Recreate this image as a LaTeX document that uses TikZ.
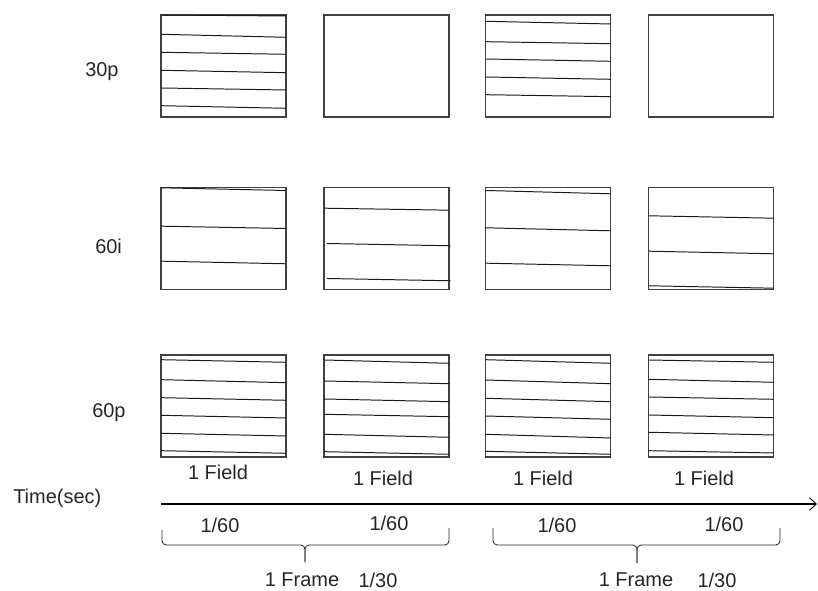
\documentclass[tikz,border=0pt]{standalone}
\usepackage{fontspec}
\setmainfont{Liberation Sans}
\usepackage{tikz}
\usetikzlibrary{arrows.meta,calc}
\tikzset{
  frame/.style={draw=black!75,line width=0.9pt,minimum width=3.125cm,minimum height=2.55cm,
    inner sep=0pt,outer sep=0pt},
  scan/.style={line width=0.7pt,black!90},
  lbl/.style={inner sep=0pt,anchor=base,font=\fontsize{14.2}{17}\selectfont,text=black!85},
  arrow/.style={-{Straight Barb[length=5pt,width=9pt,line width=0.6pt]},line width=1.3pt},
  brace/.style={line width=0.6pt,black!85,rounded corners=3pt}
}

\begin{document}
\begin{tikzpicture}[x=0.025cm,y=-0.025cm]
  \useasboundingbox (0,0) rectangle (818,591);
  % row labels
  \node[lbl,anchor=base west] (l30p) at (85,77) {30p};
  \node[lbl,anchor=base west] (l60i) at (95,253) {60i};
  \node[lbl,anchor=base west] (l60p) at (92,417) {60p};
  % 30p frames
  \node[frame] (f30a) at (223.5,66) {};
  \node[frame] (f30b) at (386.5,66) {};
  \node[frame] (f30c) at (548,66) {};
  \node[frame] (f30d) at (711,66) {};
  \foreach \l/\r in {0/1,19.3/22.3,37.3/39.3,55.3/57.7,73/75,90.7/93.3}
    \draw[scan] ($(f30a.north west)+(0,\l)$) -- ($(f30a.north east)+(0,\r)$);
  \foreach \l/\r in {6.3/9,26.7/28.7,44/46.3,62/64.3,79.7/81.7}
    \draw[scan] ($(f30c.north west)+(0,\l)$) -- ($(f30c.north east)+(0,\r)$);
  % 60i fields
  \node[frame] (f60ia) at (223.5,238.5) {};
  \node[frame] (f60ib) at (386.5,238.5) {};
  \node[frame] (f60ic) at (548,238.5) {};
  \node[frame] (f60id) at (711,238.5) {};
  \foreach \l/\r in {0.3/3,38.7/41,73.7/76.3}
    \draw[scan] ($(f60ia.north west)+(0,\l)$) -- ($(f60ia.north east)+(0,\r)$);
  \foreach \a/\l/\b/\r in {0/20.7/0/22.7,2.7/56/1.7/58.3,2.7/91/1.7/93.3}
    \draw[scan] ($(f60ib.north west)+(\a,\l)$) -- ($(f60ib.north east)+(\b,\r)$);
  \foreach \l/\r in {3/6.3,40.3/43.3,75.7/78.3}
    \draw[scan] ($(f60ic.north west)+(0,\l)$) -- ($(f60ic.north east)+(0,\r)$);
  \foreach \l/\r in {28.3/30.7,63.7/66.3,98.3/100.7}
    \draw[scan] ($(f60id.north west)+(0,\l)$) -- ($(f60id.north east)+(0,\r)$);
  % 60p frames
  \node[frame] (f60pa) at (223.5,406) {};
  \node[frame] (f60pb) at (386.5,406) {};
  \node[frame] (f60pc) at (548,406) {};
  \node[frame] (f60pd) at (711,406) {};
  \foreach \l/\r in {4.7/7.3,24.7/27.7,42.7/45.3,60.3/63,78.3/81,95.7/98.3}
    \draw[scan] ($(f60pa.north west)+(0,\l)$) -- ($(f60pa.north east)+(0,\r)$);
  \foreach \l/\r in {5/8.3,26/28.7,44/46.7,59.3/61.7,79.3/82.3,96.7/99.3}
    \draw[scan] ($(f60pb.north west)+(0,\l)$) -- ($(f60pb.north east)+(0,\r)$);
  \foreach \l/\r in {4.7/8.3,25/28.7,43.3/46.7,61/64.3,79.3/83,96.3/99.3}
    \draw[scan] ($(f60pc.north west)+(0,\l)$) -- ($(f60pc.north east)+(0,\r)$);
  \foreach \l/\r in {5/7.3,24.3/27.3,42/44.3,60/62.7,77.3/80,95.7/98}
    \draw[scan] ($(f60pd.north west)+(0,\l)$) -- ($(f60pd.north east)+(0,\r)$);
  \node[lbl] (fa) at (218,479) {1 Field};
  \node[lbl] (fb) at (383,485) {1 Field};
  \node[lbl] (fc) at (543,485) {1 Field};
  \node[lbl] (fd) at (704,485) {1 Field};
  % time axis
  \node[lbl,anchor=base west] (tsec) at (13,503) {Time(sec)};
  \coordinate (t0) at (161,504);
  \coordinate (t1) at (817,504);
  \draw[arrow] (t0) -- (t1);
  \node[lbl] (da) at (220,532) {1/60};
  \node[lbl] (db) at (389,530) {1/60};
  \node[lbl] (dc) at (557,532) {1/60};
  \node[lbl] (dd) at (724,531) {1/60};
  % frame braces
  \coordinate (b1l) at (162,530);
  \coordinate (b1r) at (449,528);
  \coordinate (b1m) at (305,545);
  \coordinate (b1t) at (305,562);
  \draw[brace] (b1l) -- (b1l |- b1m) -- (b1m) -- (b1t);
  \draw[brace] (b1r) -- (b1r |- b1m) -- (b1m) -- (b1t);
  \coordinate (b2l) at (493,528);
  \coordinate (b2r) at (780,528);
  \coordinate (b2m) at (637,545);
  \coordinate (b2t) at (637,563);
  \draw[brace] (b2l) -- (b2l |- b2m) -- (b2m) -- (b2t);
  \draw[brace] (b2r) -- (b2r |- b2m) -- (b2m) -- (b2t);
  \node[lbl] (ka) at (302,586) {1 Frame};
  \node[lbl] (ra) at (378,587) {1/30};
  \node[lbl] (kb) at (636,586) {1 Frame};
  \node[lbl] (rb) at (717,587) {1/30};
\end{tikzpicture}
\end{document}
